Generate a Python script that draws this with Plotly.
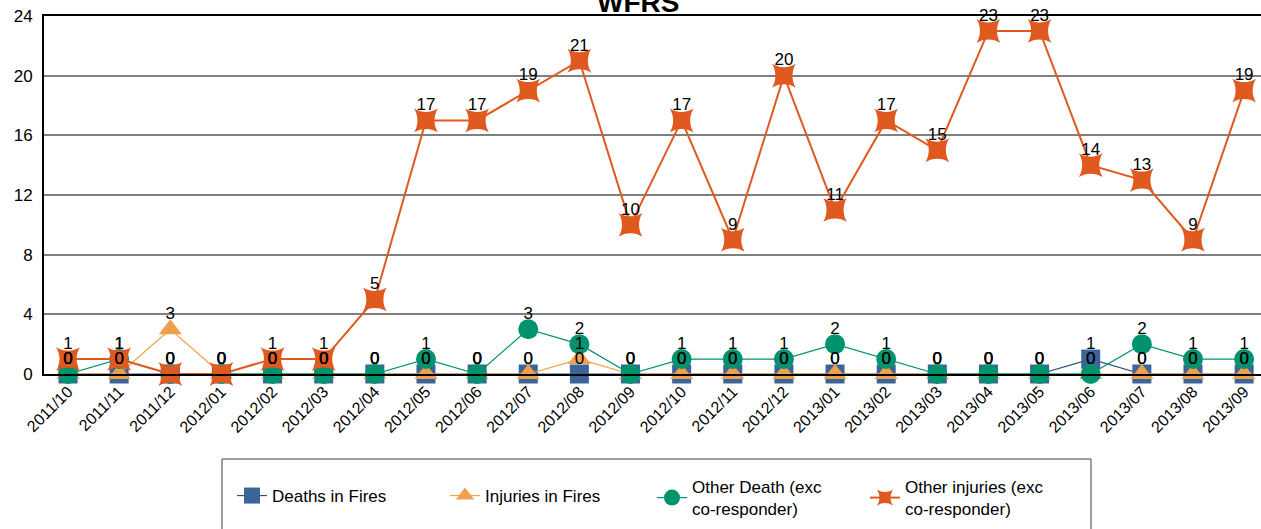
import plotly.graph_objects as go

months = ["2011/10", "2011/11", "2011/12", "2012/01", "2012/02", "2012/03", "2012/04",
          "2012/05", "2012/06", "2012/07", "2012/08", "2012/09", "2012/10", "2012/11",
          "2012/12", "2013/01", "2013/02", "2013/03", "2013/04", "2013/05", "2013/06",
          "2013/07", "2013/08", "2013/09"]
deaths_in_fires = [0, 0, 0, 0, 0, 0, 0, 0, 0, 0, 0, 0, 0, 0, 0, 0, 0, 0, 0, 0, 1, 0, 0, 0]
injuries_in_fires = [0, 0, 3, 0, 0, 0, 0, 0, 0, 0, 1, 0, 0, 0, 0, 0, 0, 0, 0, 0, 0, 0, 0, 0]
other_death = [0, 1, 0, 0, 0, 0, 0, 1, 0, 3, 2, 0, 1, 1, 1, 2, 1, 0, 0, 0, 0, 2, 1, 1]
other_injuries = [1, 1, 0, 0, 1, 1, 5, 17, 17, 19, 21, 10, 17, 9, 20, 11, 17, 15, 23, 23, 14, 13, 9, 19]
y_ticks = [0, 4, 8, 12, 16, 20, 24]

FONT = "Arial, Liberation Sans, sans-serif"

# page body margin is removed, so figure pixels == window pixels
W, H = 1261, 529
ML, MT, MB = 44, 16, 155
PW, PH = W - ML, H - MT - MB


def px_x(x):  # pixel -> paper x
    return (x - ML) / PW


def px_y(y):  # pixel -> paper y
    return (MT + PH - y) / PH


series = [
    ("Deaths in Fires", deaths_in_fires, "square", 19, 0, "#3B6499", "#2E4E7E", 1.2, "legend"),
    ("Injuries in Fires", injuries_in_fires, "triangle-up", 20, 0, "#F0A04C", "#F0A04C", 1.2, "legend"),
    ("Other Death (exc<br>co-responder)", other_death, "circle", 20, 0, "#00936E", "#00936E", 1.2, "legend2"),
    ("Other injuries (exc<br>co-responder)", other_injuries, "star-diamond", 24, 45, "#E0591E", "#E0591E", 2, "legend2"),
]

fig = go.Figure()
for name, vals, sym, size, ang, mcol, lcol, lw, leg in series:
    fig.add_trace(go.Scatter(
        x=months, y=vals, name=name, mode="lines+markers", legend=leg,
        line=dict(color=lcol, width=lw),
        marker=dict(symbol=sym, size=size, angle=ang, color=mcol, line=dict(width=0)),
        hoverinfo="skip", cliponaxis=False,
    ))
# data labels drawn on top of all markers
for name, vals, sym, size, ang, mcol, lcol, lw, leg in series:
    fig.add_trace(go.Scatter(
        x=months, y=vals, mode="markers+text", showlegend=False,
        text=[str(v) for v in vals], textposition="top center",
        textfont=dict(family=FONT, size=17, color="#000000"),
        marker=dict(size=8, opacity=0),
        hoverinfo="skip", cliponaxis=False,
    ))

legend_common = dict(orientation="h", xanchor="left", yanchor="top",
                     borderwidth=0, bgcolor="rgba(0,0,0,0)",
                     font=dict(family=FONT, size=17, color="#000000"),
                     entrywidth=168, entrywidthmode="pixels", valign="middle")

fig.update_layout(
    width=W, height=H,
    margin=dict(l=ML, r=0, t=MT, b=MB, autoexpand=False),
    paper_bgcolor="white", plot_bgcolor="white",
    font=dict(family=FONT, color="#000000"),
    showlegend=True,
    legend=dict(x=px_x(232), y=px_y(478), **legend_common),
    legend2=dict(x=px_x(652), y=px_y(469), **legend_common),
    shapes=[dict(type="rect", xref="paper", yref="paper",
                 x0=px_x(222), x1=px_x(1091), y0=px_y(459), y1=px_y(545),
                 line=dict(color="#404040", width=1), fillcolor="rgba(0,0,0,0)")],
    annotations=[dict(text="<b>WFRS</b>", xref="paper", yref="paper",
                      x=px_x(638), y=px_y(2),
                      xanchor="center", yanchor="middle", showarrow=False,
                      font=dict(family=FONT, size=28, color="#000000"))],
)
fig.update_xaxes(
    type="category", range=[-0.47, 23.33], automargin=False,
    showline=True, linecolor="#000000", linewidth=2, mirror=True,
    showgrid=False, ticks="", tickangle=-45,
    tickfont=dict(family=FONT, size=16, color="#000000"),
)
fig.update_yaxes(
    range=[0, 24], tickvals=y_ticks, ticktext=[str(t) for t in y_ticks], automargin=False,
    showline=True, linecolor="#000000", linewidth=2,
    showgrid=True, gridcolor="#808080", gridwidth=2, zeroline=False,
    ticks="", ticklabelstandoff=6, ticklabeloverflow="allow",
    tickfont=dict(family=FONT, size=17, color="#000000"),
)

fig.write_html("out.html",
               config={"displayModeBar": False},
               post_script="document.body.style.margin='0';document.body.style.overflow='hidden';")
